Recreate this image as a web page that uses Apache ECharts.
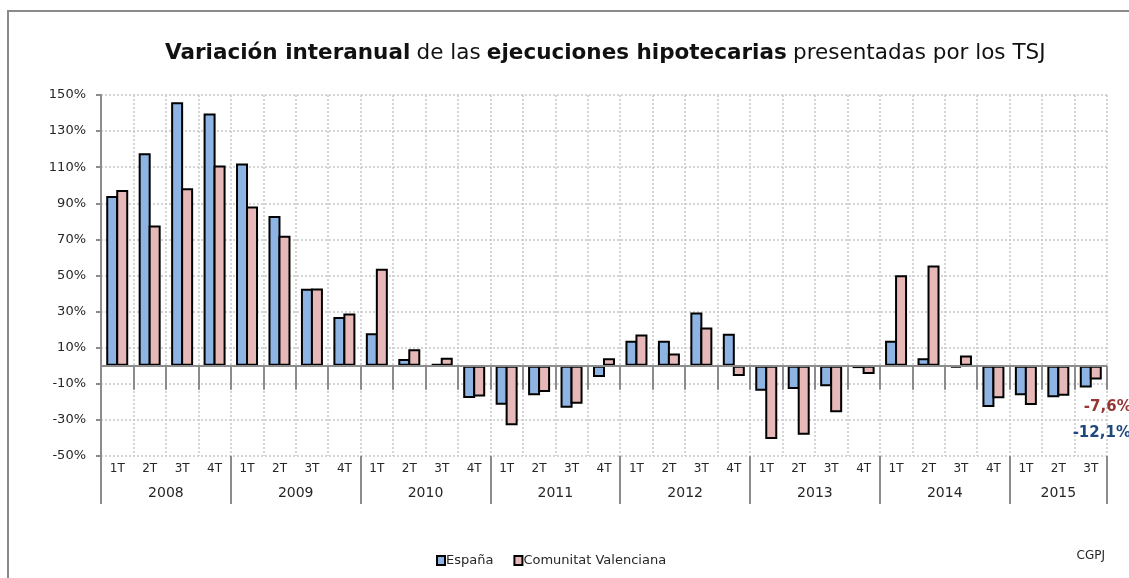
<!DOCTYPE html>
<html>
<head>
<meta charset="utf-8">
<script src="https://cdn.jsdelivr.net/npm/echarts@6/dist/echarts.min.js"></script>
<style>
  html, body { margin: 0; padding: 0; background: #fff; overflow: hidden; }
  #myChart { width: 1129px; height: 578px; }
</style>
</head>
<body>
<div id="myChart"></div>
<script>
// datos
var years = ["2008", "2009", "2010", "2011", "2012", "2013", "2014", "2015"];
var quartersPerYear = [4, 4, 4, 4, 4, 4, 4, 3];
var quarterNames = ["1T", "2T", "3T", "4T"];
var espana = [94, 117.7, 146, 139.8, 112, 83, 42.6, 27,
  18, 3.7, 1, -17.9, -21.6, -16.4, -23.2, -6.3,
  13.8, 13.8, 29.5, 17.7, -13.8, -12.9, -11.3, -1.3,
  13.8, 4.2, -1, -22.9, -16.4, -17.5, -12.1];
var valenciana = [97.4, 77.7, 98.3, 111, 88.2, 72, 42.8, 29,
  53.7, 9.2, 4.4, -17, -33, -14.6, -21, 4.2,
  17.3, 6.8, 21.2, -5.7, -40.6, -38.2, -25.8, -4.6,
  50.2, 55.5, 5.7, -18, -21.8, -16.6, -7.6];
var yTicks = { min: -50, max: 150, step: 20 };

// categorías trimestrales y posición central de cada año
var categories = [];
var yearStart = {};
var yearMid = {};
var pos = 0;
years.forEach(function (y, i) {
  yearStart[pos] = true;
  yearMid[pos + quartersPerYear[i] / 2] = y;
  for (var q = 0; q < quartersPerYear[i]; q++) categories.push(quarterNames[q]);
  pos += quartersPerYear[i];
});

function pct(p) { return p.value.toFixed(1).replace(".", ",") + "%"; }

var textColor = "#262626";
var font = "DejaVu Sans";
var gridColor = "#c8c8c8";
var axisColor = "#8c8c8c";
var myChart = echarts.init(document.getElementById("myChart"));
myChart.setOption({
  animation: false,
  textStyle: { fontFamily: font, color: textColor },
  title: {
    left: 160,
    top: 37,
    text: "{b|Variación interanual} {n|de las} {b|ejecuciones hipotecarias} {n|presentadas por los TSJ}",
    textStyle: {
      rich: {
        b: { fontFamily: font, fontWeight: "bold", fontSize: 21.5, color: "#111" },
        n: { fontFamily: font, fontWeight: "normal", fontSize: 21.5, color: "#111" }
      }
    }
  },
  legend: {
    left: 431,
    top: 549,
    itemWidth: 8,
    itemHeight: 9,
    itemGap: 20,
    icon: "rect",
    textStyle: { fontFamily: font, fontSize: 13, color: textColor, padding: [0, 0, 0, -4] },
    data: ["España", "Comunitat Valenciana"]
  },
  graphic: [
    {
      type: "text",
      right: 24,
      top: 550,
      style: { text: "CGPJ", fontFamily: font, fontSize: 12, fill: textColor }
    },
    {
      type: "polyline",
      silent: true,
      shape: { points: [[8, 600], [8, 11], [1140, 11]] },
      style: { stroke: "#8a8a8a", lineWidth: 2, fill: null }
    }
  ],
  grid: { left: 101, right: 22, top: 95, bottom: 122 },
  xAxis: [
    {
      type: "category",
      data: categories,
      position: "bottom",
      axisLine: { show: false },
      axisTick: { show: true, interval: 0, length: 24, lineStyle: { color: axisColor, width: 2 } },
      axisLabel: { interval: 0, margin: 7, fontSize: 12, color: textColor, fontFamily: font },
      splitLine: { show: true, interval: 0, lineStyle: { color: gridColor, width: 1.5, type: [2, 2] } }
    },
    {
      type: "category",
      data: categories,
      position: "bottom",
      axisLine: { show: false },
      axisTick: {
        show: true, length: 48,
        interval: function (index) { return !!yearStart[index]; },
        lineStyle: { color: axisColor, width: 2 }
      },
      axisLabel: { show: false },
      splitLine: { show: false }
    },
    {
      type: "value",
      position: "bottom",
      min: 0,
      max: categories.length,
      interval: 0.5,
      axisLine: { show: false },
      axisTick: { show: false },
      splitLine: { show: false },
      axisLabel: {
        margin: 30, fontSize: 14, color: textColor, fontFamily: font,
        formatter: function (v) { return yearMid[v] || ""; }
      }
    }
  ],
  yAxis: {
    type: "value",
    min: yTicks.min,
    max: yTicks.max,
    interval: yTicks.step,
    axisLine: { show: true, lineStyle: { color: axisColor, width: 2 } },
    axisTick: { show: true, length: 5, lineStyle: { color: axisColor, width: 2 } },
    axisLabel: { formatter: "{value}%", margin: 15, fontSize: 13, color: textColor, fontFamily: font },
    splitLine: { show: true, lineStyle: { color: gridColor, width: 1.5, type: [2, 2] } }
  },
  series: [
    {
      name: "España",
      type: "bar",
      xAxisIndex: 0,
      barWidth: 12,
      barGap: "-16.7%",
      itemStyle: { color: "#8db4e2", borderColor: "#000", borderWidth: 2 },
      data: espana.map(function (v, i) {
        if (i !== espana.length - 1) return v;
        return {
          value: v,
          label: {
            show: true, position: "bottom", offset: [16, 33], formatter: pct,
            fontFamily: font, fontWeight: "bold", fontSize: 15, color: "#1f497d"
          }
        };
      }),
      markLine: {
        silent: true,
        symbol: "none",
        label: { show: false },
        lineStyle: { color: axisColor, width: 2, type: "solid" },
        data: [{ yAxis: 0 }]
      }
    },
    {
      name: "Comunitat Valenciana",
      type: "bar",
      xAxisIndex: 0,
      barWidth: 12,
      barGap: "-16.7%",
      itemStyle: { color: "#e6b9b8", borderColor: "#000", borderWidth: 2 },
      data: valenciana.map(function (v, i) {
        if (i !== valenciana.length - 1) return v;
        return {
          value: v,
          label: {
            show: true, position: "bottom", offset: [12, 15], formatter: pct,
            fontFamily: font, fontWeight: "bold", fontSize: 15, color: "#953735"
          }
        };
      })
    }
  ]
});
</script>
</body>
</html>
